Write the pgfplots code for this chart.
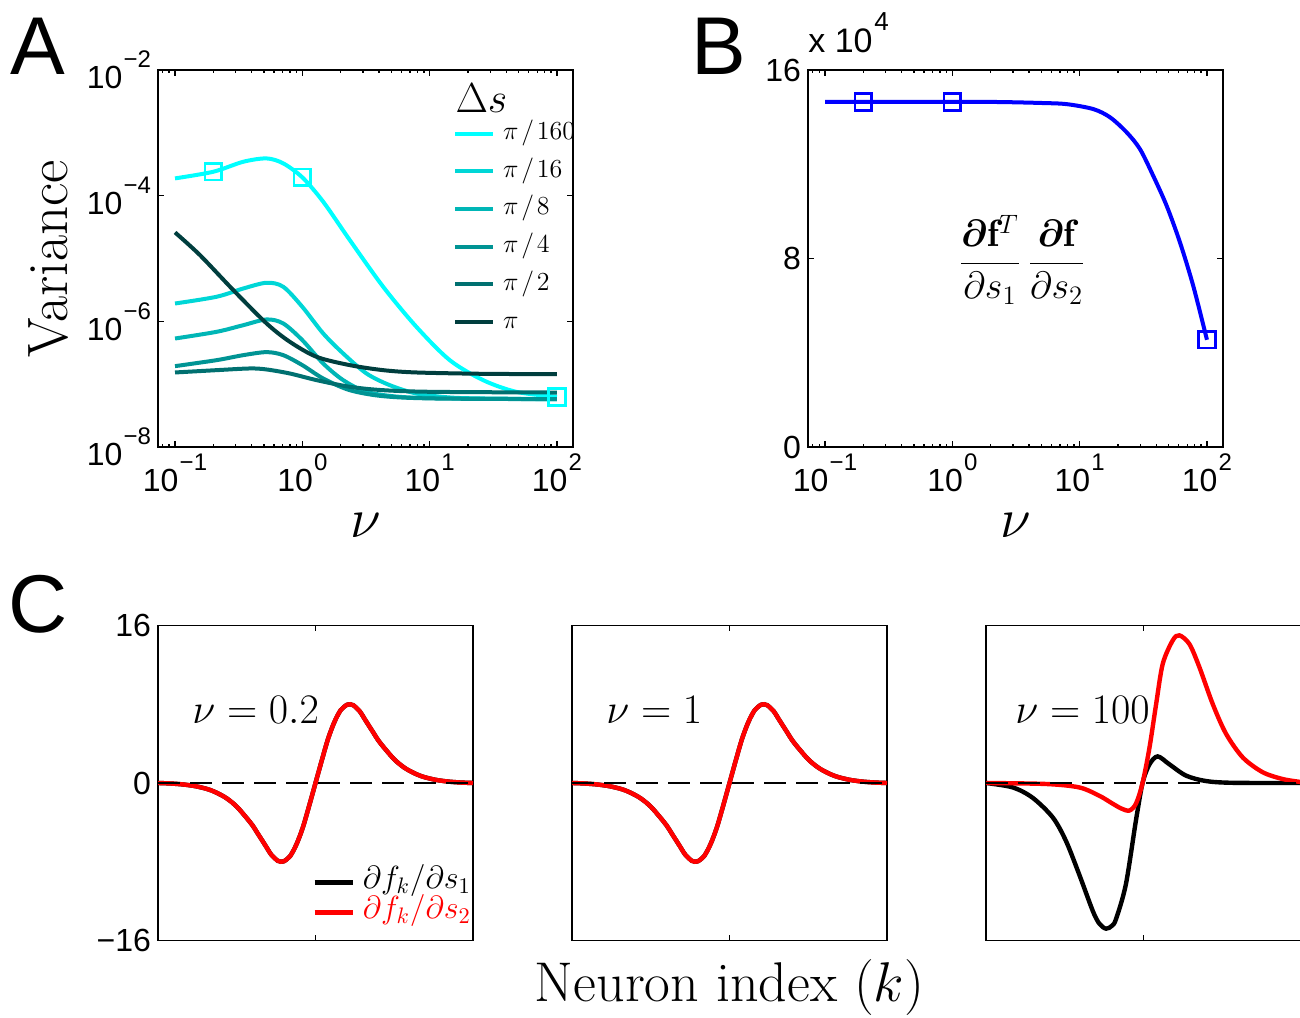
\RequirePackage{fix-cm}
\documentclass[border=0pt]{standalone}
\usepackage{fontspec}
\usepackage{bm}
\usepackage{pgfplots}
\pgfplotsset{compat=1.18}
\newfontfamily\tsf{Liberation Sans}
\newcommand{\tkf}{\tsf\fontsize{16}{18}\selectfont}
\newcommand{\sps}[1]{\kern0.6pt\raisebox{10.5pt}{\fontsize{12}{13}\selectfont #1}}
\newcommand{\tpw}[1]{10\sps{#1}}
\definecolor{c160}{RGB}{0,255,255}
\definecolor{c16}{RGB}{0,214,214}
\definecolor{c8}{RGB}{0,182,182}
\definecolor{c4}{RGB}{0,148,148}
\definecolor{c2}{RGB}{0,112,112}
\definecolor{cpi}{RGB}{0,62,62}
\pgfplotsset{
  mlabstyle/.style={scale only axis, anchor=south west,
    tick label style={font=\tkf},
    tick align=inside, major tick length=2.8pt, minor tick length=1.5pt,
    axis line style={line width=0.9pt},
    every tick/.style={black, line width=0.7pt},
  },
}
\begin{document}
\begin{tikzpicture}
\useasboundingbox (0,0) rectangle (650pt,508.5pt);

% ---------------- Panel A
\begin{axis}[mlabstyle, at={(79pt,285pt)}, width=207.5pt, height=188.5pt,
  xmode=log, ymode=log, log basis x=10, log basis y=10,
  xmin=0.0735, xmax=133.7, ymin=1e-8, ymax=1e-2,
  xtick={0.1,1,10,100}, xticklabels={\tpw{−1},\tpw{0},\tpw{1},\tpw{2}},
  minor xtick={0.08,0.09,0.2,0.3,0.4,0.5,0.6,0.7,0.8,0.9,2,3,4,5,6,7,8,9,20,30,40,50,60,70,80,90},
  ytick={1e-8,1e-6,1e-4,1e-2}, yticklabels={\tpw{−8},\tpw{−6},\tpw{−4},\tpw{−2}},
  yminorticks=false,
  legend style={draw=none, fill=none, at={(0.710,0.867)}, anchor=north west,
    inner sep=0pt, row sep=5.85pt, font=\fontsize{13}{15}\selectfont,
    nodes={inner sep=0pt, text height=9.5pt, text depth=3.5pt}},
  legend cell align=left,
  legend image code/.code={\draw[#1] (0pt,0pt) -- (19pt,0pt); \path (23pt,0pt);},
]
\addplot[c160, line width=2pt, smooth] coordinates {(0.1,1.884e-4) (0.2,2.404e-4) (0.344,3.467e-4) (0.524,3.917e-4) (0.708,3.266e-4) (1,1.954e-4) (1.459,8.0e-5) (2.36,1.963e-5) (4.315,3.548e-6) (7.87,8.18e-7) (14.39,2.41e-7) (26.3,1.159e-7) (47.97,7.55e-8) (100,6.28e-8)};
\addlegendentry{$\pi\mkern2mu/\mkern2mu160$}
\addplot[c16, line width=2pt, smooth] coordinates {(0.1,1.923e-6) (0.212,2.460e-6) (0.344,3.334e-6) (0.524,4.111e-6) (0.708,3.548e-6) (1,1.702e-6) (1.459,6.41e-7) (2.094,3.076e-7) (3.192,1.479e-7) (4.864,9.64e-8) (7.87,7.10e-8) (14.39,6.14e-8) (26.3,5.92e-8) (100,5.77e-8)};
\addlegendentry{$\pi\mkern2mu/\mkern2mu16$}
\addplot[c8, line width=2pt, smooth] coordinates {(0.1,5.33e-7) (0.212,6.81e-7) (0.344,8.69e-7) (0.524,1.072e-6) (0.708,9.25e-7) (1,5.02e-7) (1.459,2.133e-7) (2.094,1.159e-7) (3.192,7.55e-8) (5.834,6.28e-8) (14.39,5.92e-8) (100,5.77e-8)};
\addlegendentry{$\pi\mkern2mu/\mkern2mu8$}
\addplot[c4, line width=2pt, smooth] coordinates {(0.1,1.936e-7) (0.212,2.41e-7) (0.344,2.897e-7) (0.524,3.236e-7) (0.708,2.897e-7) (1,2.009e-7) (1.459,1.230e-7) (2.36,8.02e-8) (4.315,6.44e-8) (10.64,5.92e-8) (100,5.77e-8)};
\addlegendentry{$\pi\mkern2mu/\mkern2mu4$}
\addplot[c2, line width=2pt, smooth] coordinates {(0.1,1.535e-7) (0.212,1.671e-7) (0.388,1.778e-7) (0.524,1.714e-7) (0.798,1.479e-7) (1.294,1.159e-7) (2.36,9.08e-8) (4.315,8.02e-8) (10.64,7.55e-8) (100,7.36e-8)};
\addlegendentry{$\pi\mkern2mu/\mkern2mu2$}
\addplot[cpi, line width=2pt, smooth] coordinates {(0.1,2.60e-5) (0.157,1.132e-5) (0.287,3.141e-6) (0.524,9.25e-7) (0.798,4.72e-7) (1.294,2.723e-7) (2.36,2.009e-7) (4.315,1.671e-7) (7.87,1.535e-7) (26.3,1.462e-7) (100,1.442e-7)};
\addlegendentry{$\pi$}
\addplot[c160, only marks, mark=square, mark size=4.2pt, line width=1.3pt, forget plot] coordinates {(0.2,2.404e-4) (1,1.954e-4) (100,6.28e-8)};
\node[anchor=base west, inner sep=0pt, font=\fontsize{21}{24}\selectfont] at (rel axis cs:0.716,0.886) {$\Delta s$};
\end{axis}

% ---------------- Panel B
\begin{axis}[mlabstyle, at={(404pt,285pt)}, width=207.5pt, height=188.5pt,
  xmode=log, log basis x=10, xmin=0.0735, xmax=133.7,
  xtick={0.1,1,10,100}, xticklabels={\tpw{−1},\tpw{0},\tpw{1},\tpw{2}},
  minor xtick={0.08,0.09,0.2,0.3,0.4,0.5,0.6,0.7,0.8,0.9,2,3,4,5,6,7,8,9,20,30,40,50,60,70,80,90},
  ymin=0, ymax=16, ytick={0,8,16}, yticklabels={0,8,16},
]
\addplot[blue, line width=2pt, smooth, tension=0.5] coordinates {(0.1,14.65) (0.5,14.65) (1,14.65) (2.37,14.64) (5,14.6) (7.93,14.55) (12.82,14.34) (17.35,13.99) (23.44,13.35) (29.8,12.64) (37.9,11.5) (48.3,10.23) (61.5,8.67) (78.2,6.82) (100,4.55)};
\addplot[blue, only marks, mark=square, mark size=4.2pt, line width=1.3pt] coordinates {(0.2,14.65) (1,14.65) (100,4.55)};
\node[inner sep=0pt, font=\fontsize{19}{22}\selectfont] at (rel axis cs:0.516,0.497) {$\displaystyle\frac{\bm{\partial}\mathbf{f}^T}{\partial s_1}\,\frac{\bm{\partial}\mathbf{f}}{\partial s_2}$};
\end{axis}

% ---------------- Panel C1
\begin{axis}[mlabstyle, at={(79pt,38.25pt)}, width=157.5pt, height=157.5pt,
  xmin=0, xmax=100, ymin=-16, ymax=16, xtick={50}, xticklabels={}, ytick={-16,0,16},
  yticklabels={−16,0,16},
  legend style={draw=none, fill=none, at={(0.489,0.233)}, anchor=north west,
    inner sep=0pt, row sep=0pt, font=\fontsize{16}{18}\selectfont,
    nodes={inner sep=0pt, text height=10.5pt, text depth=4.5pt}},
  legend cell align=left,
  legend image code/.code={\draw[#1] (0pt,0pt) -- (19pt,0pt); \path (23pt,0pt);},
]
\addplot[black, line width=2.2pt, smooth] coordinates {(0,0) (4,-0.05) (8,-0.15) (12,-0.33) (16,-0.65) (19,-1.05) (22,-1.6) (25,-2.4) (28,-3.5) (30,-4.3) (32,-5.3) (34,-6.3) (36,-7.3) (38,-7.9) (39,-8.0) (40,-7.95) (42,-7.4) (44,-6.2) (46,-4.5) (48,-2.3) (50,0) (52,2.3) (54,4.5) (56,6.2) (58,7.4) (60,7.95) (61,8.0) (62,7.9) (64,7.3) (66,6.3) (68,5.3) (70,4.3) (72,3.5) (75,2.4) (78,1.6) (81,1.05) (84,0.65) (88,0.33) (92,0.15) (96,0.05) (100,0)};
\addlegendentry{$\partial f_k/\partial s_1$}
\addplot[red, line width=2.2pt, smooth] coordinates {(0,0) (4,-0.05) (8,-0.15) (12,-0.33) (16,-0.65) (19,-1.05) (22,-1.6) (25,-2.4) (28,-3.5) (30,-4.3) (32,-5.3) (34,-6.3) (36,-7.3) (38,-7.9) (39,-8.0) (40,-7.95) (42,-7.4) (44,-6.2) (46,-4.5) (48,-2.3) (50,0) (52,2.3) (54,4.5) (56,6.2) (58,7.4) (60,7.95) (61,8.0) (62,7.9) (64,7.3) (66,6.3) (68,5.3) (70,4.3) (72,3.5) (75,2.4) (78,1.6) (81,1.05) (84,0.65) (88,0.33) (92,0.15) (96,0.05) (100,0)};
\addlegendentry{\textcolor{red}{$\partial f_k/\partial s_2$}}
\addplot[black, line width=0.7pt, dash pattern=on 11pt off 5pt, forget plot] coordinates {(0,0) (100,0)};
\node[anchor=base west, inner sep=0pt, font=\fontsize{21}{24}\selectfont] at (rel axis cs:0.108,0.690) {$\nu = 0.2$};
\end{axis}

% ---------------- Panel C2
\begin{axis}[mlabstyle, at={(286pt,38.25pt)}, width=157.5pt, height=157.5pt,
  xmin=0, xmax=100, ymin=-16, ymax=16, xtick={50}, xticklabels={}, ytick={-16,0,16},
  yticklabels={,,}]
\addplot[black, line width=2.2pt, smooth] coordinates {(0,0) (4,-0.05) (8,-0.15) (12,-0.33) (16,-0.65) (19,-1.05) (22,-1.6) (25,-2.4) (28,-3.5) (30,-4.3) (32,-5.3) (34,-6.3) (36,-7.3) (38,-7.9) (39,-8.0) (40,-7.95) (42,-7.4) (44,-6.2) (46,-4.5) (48,-2.3) (50,0) (52,2.3) (54,4.5) (56,6.2) (58,7.4) (60,7.95) (61,8.0) (62,7.9) (64,7.3) (66,6.3) (68,5.3) (70,4.3) (72,3.5) (75,2.4) (78,1.6) (81,1.05) (84,0.65) (88,0.33) (92,0.15) (96,0.05) (100,0)};
\addplot[red, line width=2.2pt, smooth] coordinates {(0,0) (4,-0.05) (8,-0.15) (12,-0.33) (16,-0.65) (19,-1.05) (22,-1.6) (25,-2.4) (28,-3.5) (30,-4.3) (32,-5.3) (34,-6.3) (36,-7.3) (38,-7.9) (39,-8.0) (40,-7.95) (42,-7.4) (44,-6.2) (46,-4.5) (48,-2.3) (50,0) (52,2.3) (54,4.5) (56,6.2) (58,7.4) (60,7.95) (61,8.0) (62,7.9) (64,7.3) (66,6.3) (68,5.3) (70,4.3) (72,3.5) (75,2.4) (78,1.6) (81,1.05) (84,0.65) (88,0.33) (92,0.15) (96,0.05) (100,0)};
\addplot[black, line width=0.7pt, dash pattern=on 11pt off 5pt] coordinates {(0,0) (100,0)};
\node[anchor=base west, inner sep=0pt, font=\fontsize{21}{24}\selectfont] at (rel axis cs:0.108,0.690) {$\nu = 1$};
\end{axis}

% ---------------- Panel C3
\begin{axis}[mlabstyle, at={(493pt,38.25pt)}, width=157.5pt, height=157.5pt,
  xmin=0, xmax=100, ymin=-16, ymax=16, xtick={50}, xticklabels={}, ytick={-16,0,16},
  yticklabels={,,}]
\addplot[black, line width=2.2pt, smooth] coordinates {(0,0) (8.5,-0.45) (14.8,-1.5) (21.2,-3.5) (25.4,-5.9) (29.6,-9.3) (33.9,-13) (36,-14.3) (38.1,-14.8) (40,-14.5) (41.3,-13.8) (44.4,-10.3) (47.6,-3.8) (49.7,0) (51.9,1.9) (54.5,2.7) (58.2,1.9) (63.5,0.75) (69.8,0.2) (78.3,0.02) (100,0)};
\addplot[red, line width=2.2pt, smooth] coordinates {(0,0) (19,-0.1) (29.6,-0.45) (36,-1.3) (40.2,-2.1) (43,-2.6) (45.5,-2.8) (47.6,-2.1) (49.7,0) (51.9,3.6) (54,8.0) (56.1,12.1) (59.3,14.5) (61.4,15.0) (64.6,14.1) (67.7,11.8) (72,8.0) (76.2,5.0) (81.5,2.6) (87.8,1.1) (94.2,0.4) (100,0.1)};
\addplot[black, line width=0.7pt, dash pattern=on 11pt off 5pt] coordinates {(0,0) (100,0)};
\node[anchor=base west, inner sep=0pt, font=\fontsize{21}{24}\selectfont] at (rel axis cs:0.092,0.690) {$\nu = 100$};
\end{axis}

% ---------------- labels
\node[anchor=base west, inner sep=0pt, font=\tsf\fontsize{41}{45}\selectfont] at (5pt,471pt) {A};
\node[anchor=base west, inner sep=0pt, font=\tsf\fontsize{41}{45}\selectfont] at (345.5pt,471pt) {B};
\node[anchor=base west, inner sep=0pt, font=\tsf\fontsize{41}{45}\selectfont] at (4pt,192pt) {C};
\node[anchor=base west, inner sep=0pt, font=\tsf\fontsize{17}{19}\selectfont] at (404pt,482pt) {x 10\kern0.8pt\raisebox{11pt}{\fontsize{13}{14}\selectfont 4}};
\node[rotate=90, inner sep=0pt, font=\fontsize{28.5}{32}\selectfont] at (24pt,379pt) {Variance};
\node[anchor=base, inner sep=0pt, font=\fontsize{28}{32}\selectfont] at (182.75pt,239.5pt) {$\nu$};
\node[anchor=base, inner sep=0pt, font=\fontsize{28}{32}\selectfont] at (507.75pt,239.5pt) {$\nu$};
\node[anchor=base, inner sep=0pt, font=\fontsize{28}{32}\selectfont] at (364.75pt,7.6pt) {Neuron index $(k)$};
\end{tikzpicture}
\end{document}
